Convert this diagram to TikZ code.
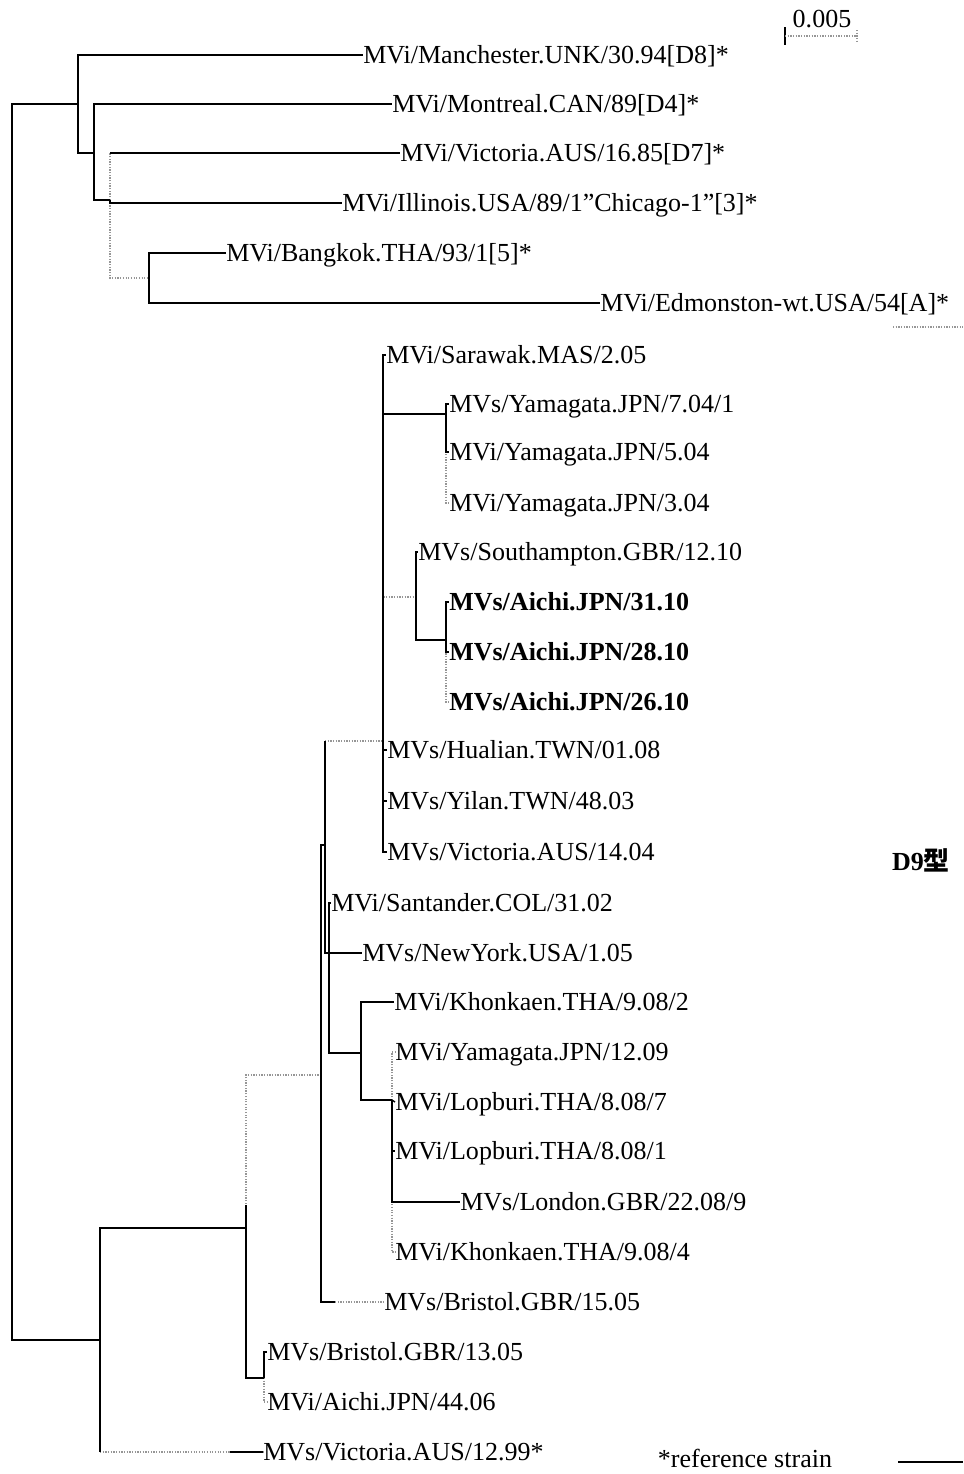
\documentclass[tikz,border=0pt]{standalone}
\usepackage{fontspec}
\setmainfont{Liberation Serif}
\newfontfamily\cjk{Noto Sans CJK SC}
\definecolor{cFaint}{RGB}{150,150,150}
\tikzset{
	leaf/.style ={anchor=west, inner sep=0pt, text height=14pt, text depth=2.5pt},
	bleaf/.style={leaf, font=\fontsize{18.5pt}{20pt}\selectfont\bfseries},
	br/.style   ={line width=1pt, black},
	fbr/.style  ={line width=0.9pt, cFaint, densely dotted},
}
\begin{document}
\begin{tikzpicture}[x=0.025cm, y=-0.025cm, font=\fontsize{18.5pt}{20pt}\selectfont]
	\useasboundingbox (0,0) rectangle (963,1474);
	% leaves
	\node[leaf] (manc)  at (363,55)   {MVi/Manchester.UNK/30.94[D8]*};
	\node[leaf] (mont)  at (392,104)  {MVi/Montreal.CAN/89[D4]*};
	\node[leaf] (vicA)  at (400,153)  {MVi/Victoria.AUS/16.85[D7]*};
	\node[leaf] (ill)   at (342,203)  {MVi/Illinois.USA/89/1"Chicago-1"[3]*};
	\node[leaf] (bkk)   at (226,253)  {MVi/Bangkok.THA/93/1[5]*};
	\node[leaf] (edm)   at (600,303)  {MVi/Edmonston-wt.USA/54[A]*};
	\node[leaf] (sar)   at (386,355)  {MVi/Sarawak.MAS/2.05};
	\node[leaf] (yam1)  at (449,404)  {MVs/Yamagata.JPN/7.04/1};
	\node[leaf] (yam2)  at (449,452)  {MVi/Yamagata.JPN/5.04};
	\node[leaf] (yam3)  at (449,503)  {MVi/Yamagata.JPN/3.04};
	\node[leaf] (sou)   at (418,552)  {MVs/Southampton.GBR/12.10};
	\node[bleaf] (ai31) at (449,602)  {MVs/Aichi.JPN/31.10};
	\node[bleaf] (ai28) at (449,652)  {MVs/Aichi.JPN/28.10};
	\node[bleaf] (ai26) at (449,702)  {MVs/Aichi.JPN/26.10};
	\node[leaf] (hua)   at (387,750)  {MVs/Hualian.TWN/01.08};
	\node[leaf] (yil)   at (387,801)  {MVs/Yilan.TWN/48.03};
	\node[leaf] (vicB)  at (387,852)  {MVs/Victoria.AUS/14.04};
	\node[leaf] (san)   at (331,903)  {MVi/Santander.COL/31.02};
	\node[leaf] (ny)    at (362,953)  {MVs/NewYork.USA/1.05};
	\node[leaf] (kk2)   at (394,1002) {MVi/Khonkaen.THA/9.08/2};
	\node[leaf] (yam4)  at (395,1052) {MVi/Yamagata.JPN/12.09};
	\node[leaf] (lop7)  at (395,1102) {MVi/Lopburi.THA/8.08/7};
	\node[leaf] (lop1)  at (395,1151) {MVi/Lopburi.THA/8.08/1};
	\node[leaf] (lon)   at (460,1202) {MVs/London.GBR/22.08/9};
	\node[leaf] (kk4)   at (395,1252) {MVi/Khonkaen.THA/9.08/4};
	\node[leaf] (bri15) at (384,1302) {MVs/Bristol.GBR/15.05};
	\node[leaf] (bri13) at (267,1352) {MVs/Bristol.GBR/13.05};
	\node[leaf] (ai44)  at (267,1402) {MVi/Aichi.JPN/44.06};
	\node[leaf] (vicC)  at (263,1452) {MVs/Victoria.AUS/12.99*};
	% inner nodes
	\coordinate (root) at (12,720);
	\coordinate (up) at (78,104);
	\coordinate (n2) at (94,153);
	\coordinate (n3) at (110,200);
	\coordinate (n4) at (149,278);
	\coordinate (d9) at (100,1340);
	\coordinate (n6) at (246,1228);
	\coordinate (n8) at (264,1378);
	\coordinate (n7) at (321,1075);
	\coordinate (P) at (325,845);
	\coordinate (Q) at (329,953);
	\coordinate (B) at (361,1053);
	\coordinate (C) at (392,1100);
	\coordinate (S) at (383,741);
	\coordinate (Yn) at (446,414);
	\coordinate (An) at (416,597);
	\coordinate (Ai) at (446,640);
	% faint branches
	\draw[fbr] (n3) -- (n3 |- vicA.west);
	\draw[fbr] (n3) |- (n4);
	\draw[fbr] (d9 |- vicC.west) -- (vicC.west);
	\draw[fbr] (n6) |- (n7);
	\draw[fbr] (n8) |- (ai44.west);
	\draw[fbr] (n7 |- bri15.west) ++(14,0) -- (bri15.west);
	\draw[fbr] (P |- S) -- (S);
	\draw[fbr] (C) |- (yam4.west);
	\draw[fbr] (C) |- (kk4.west);
	\draw[fbr] (S) |- (An);
	\draw[fbr] (Yn) |- (yam3.west);
	\draw[fbr] (Ai) |- (ai26.west);
	% upper clade
	\draw[br] (root) |- (up);
	\draw[br] (up) |- (manc.west);
	\draw[br] (up) |- (n2);
	\draw[br] (n2) |- (mont.west);
	\draw[br] (n2) |- (n3);
	\draw[br] (n3 |- vicA.west) -- (vicA.west);
	\draw[br] (n3) |- (ill.west);
	\draw[br] (n4) |- (bkk.west);
	\draw[br] (n4) |- (edm.west);
	% D9 clade
	\draw[br] (root) |- (d9);
	\draw[br] (d9) |- (n6);
	\draw[br] (d9) -- (d9 |- vicC.west);
	\draw[br] (vicC.west) -- ++(-33,0);
	\draw[br] (n6) ++(0,-23) |- (n8);
	\draw[br] (n8) |- (bri13.west);
	\draw[br] (n7) |- (P);
	\draw[br] (n7) -- (n7 |- bri15.west) -- ++(14,0);
	\draw[br] (P) -- (P |- S);
	\draw[br] (P) |- (Q);
	\draw[br] (Q) -- (ny.west);
	\draw[br] (Q) |- (san.west);
	\draw[br] (Q) |- (B);
	\draw[br] (B) |- (kk2.west);
	\draw[br] (B) |- (C);
	\draw[br] (C) -- (lop7.west);
	\draw[br] (C) |- (lop1.west);
	\draw[br] (C) |- (lon.west);
	\draw[br] (S) |- (sar.west);
	\draw[br] (S) |- (Yn);
	\draw[br] (S) |- (hua.west);
	\draw[br] (S) |- (yil.west);
	\draw[br] (S) |- (vicB.west);
	\draw[br] (Yn) |- (yam1.west);
	\draw[br] (Yn) |- (yam2.west);
	\draw[br] (An) |- (sou.west);
	\draw[br] (An) |- (Ai);
	\draw[br] (Ai) |- (ai31.west);
	\draw[br] (Ai) |- (ai28.west);
	% scale bar, notes
	\node (scl) at (822,19) {0.005};
	\draw[br] (785,27) -- (785,45);
	\draw[fbr] (785,36) -- (857,36) (857,30) -- (857,42);
	\node[font=\fontsize{18.5pt}{20pt}\selectfont\bfseries] (d9lab) at (921,860) {D9{\cjk 型}};
	\node (refnote) at (745,1458) {*reference strain};
	\draw[fbr] (893,327) -- (963,327);
	\draw[br] (898,1462) -- (963,1462);
\end{tikzpicture}
\end{document}
